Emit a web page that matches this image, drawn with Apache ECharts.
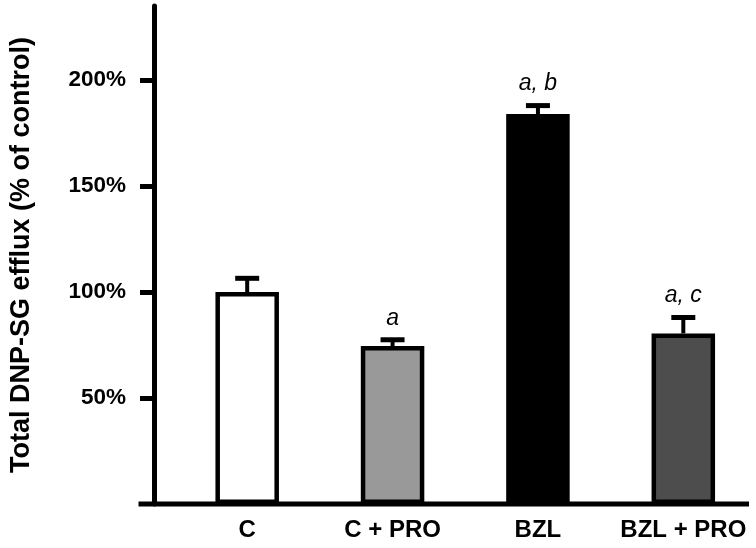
<!DOCTYPE html>
<html>
<head>
<meta charset="utf-8">
<script src="https://cdn.jsdelivr.net/npm/echarts@6/dist/echarts.min.js"></script>
<style>html,body{margin:0;padding:0;background:#fff}#c{width:756px;height:548px}</style>
</head>
<body>
<div id="c"></div>
<script>
const categories = ['C', 'C + PRO', 'BZL', 'BZL + PRO'];
const values = [100, 74.5, 184, 80.5];
const errors = [6.5, 3, 4, 7.5];
const annotations = ['', 'a', 'a, b', 'a, c'];
const barColors = ['#ffffff', '#999999', '#000000', '#4d4d4d'];
const yTicks = [50, 100, 150, 200];

const FONT = '"Liberation Sans", Arial, sans-serif';
const chart = echarts.init(document.getElementById('c'), null, {renderer: 'canvas'});
const gridLeft = 161.5, gridTop = 6, gridBottomPx = 504, axisX = 141;

chart.setOption({
  animation: false,
  backgroundColor: '#fff',
  grid: {left: gridLeft, width: 596, top: gridTop, height: gridBottomPx - gridTop, containLabel: false},
  xAxis: {
    type: 'category',
    data: categories,
    axisLine: {show: false},
    axisTick: {show: false},
    axisLabel: {interval: 0, margin: 14, color: '#000', fontFamily: FONT, fontWeight: 'bold', fontSize: 24}
  },
  yAxis: {
    type: 'value',
    min: 0, max: 235, interval: 50,
    offset: gridLeft - axisX,
    splitLine: {show: false},
    axisLine: {show: true, lineStyle: {color: '#000', width: 5}},
    axisTick: {show: true, inside: false, length: 14, lineStyle: {color: '#000', width: 5}, customValues: yTicks},
    axisLabel: {margin: 28, color: '#000', fontFamily: FONT, fontWeight: 'bold', fontSize: 22.5,
      customValues: yTicks, formatter: v => v + '%'},
    name: 'Total DNP-SG efflux (% of control)',
    nameLocation: 'middle',
    nameGap: 119,
    nameRotate: 90,
    nameTextStyle: {color: '#000', fontFamily: FONT, fontWeight: 'bold', fontSize: 27}
  },
  series: [
    {
      type: 'bar',
      barWidth: 63.5,
      data: values.map((v, i) => ({value: v, itemStyle: {color: barColors[i]}})),
      itemStyle: {borderColor: '#000', borderWidth: 4.5},
      z: 2
    },
    {
      type: 'custom',
      data: categories.map((c, i) => [i, values[i], errors[i]]),
      z: 3,
      renderItem: function (params, api) {
        const i = api.value(0), v = api.value(1), e = api.value(2);
        const base = api.coord([i, v]);
        const top = api.coord([i, v + e]);
        const half = 12;
        return {
          type: 'group',
          children: [
            {type: 'line', shape: {x1: base[0], y1: base[1], x2: top[0], y2: top[1]}, style: {stroke: '#000', lineWidth: 4}},
            {type: 'line', shape: {x1: top[0] - half, y1: top[1], x2: top[0] + half, y2: top[1]}, style: {stroke: '#000', lineWidth: 5}},
            {type: 'text', x: top[0], y: top[1] - 10, style: {text: annotations[params.dataIndex], fill: '#000',
              font: 'italic 23px ' + FONT, align: 'center', verticalAlign: 'bottom'}}
          ]
        };
      }
    }
  ]
});

const y0 = chart.convertToPixel({yAxisIndex: 0}, 0);
chart.setOption({
  graphic: [{
    type: 'line', z: 10,
    shape: {x1: axisX - 2.5, y1: y0, x2: 749, y2: y0},
    style: {stroke: '#000', lineWidth: 5}
  }]
});
</script>
</body>
</html>
